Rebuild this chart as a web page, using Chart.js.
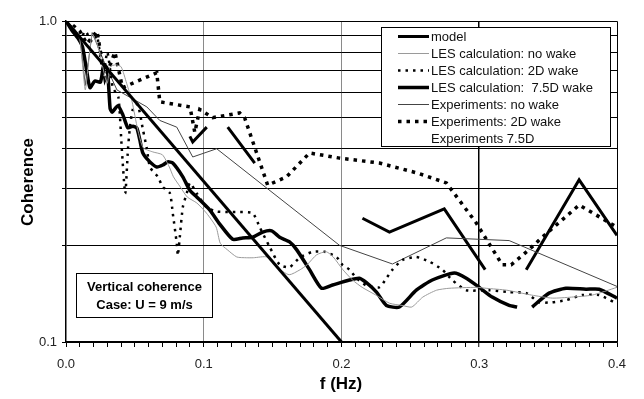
<!DOCTYPE html>
<html>
<head>
<meta charset="utf-8">
<title>Vertical coherence</title>
<script src="https://cdn.jsdelivr.net/npm/chart.js@4.4.1/dist/chart.umd.min.js"></script>
<style>
  html, body { margin: 0; padding: 0; background: #fff; }
  #wrap { width: 644px; height: 399px; }
</style>
</head>
<body>
<div id="wrap"><canvas id="coherenceChart" width="644" height="399"></canvas></div>
<script>
// Values: frequency f (Hz) and coherence per series
const modelF = [0, 0.2];
const modelC = [1.0, 0.1];

const lesNoWakeF = [0, 0.006, 0.010, 0.012, 0.014, 0.016, 0.019, 0.023, 0.028, 0.030, 0.032, 0.036, 0.040, 0.044, 0.048, 0.052, 0.056, 0.063, 0.070, 0.075, 0.078, 0.083, 0.088, 0.095, 0.102, 0.109, 0.112, 0.117, 0.124, 0.131, 0.136, 0.146, 0.153, 0.162, 0.170, 0.175, 0.182, 0.189, 0.194, 0.201, 0.208, 0.215, 0.225, 0.235, 0.244, 0.251, 0.259, 0.269, 0.278, 0.298, 0.305, 0.320, 0.338, 0.353, 0.367, 0.382, 0.400];
const lesNoWakeC = [1.0, 0.95, 0.875, 0.73, 0.61, 0.72, 0.91, 0.84, 0.68, 0.64, 0.72, 0.73, 0.72, 0.64, 0.56, 0.46, 0.403, 0.391, 0.383, 0.351, 0.327, 0.304, 0.283, 0.271, 0.252, 0.228, 0.203, 0.194, 0.184, 0.183, 0.183, 0.184, 0.171, 0.162, 0.168, 0.174, 0.187, 0.191, 0.184, 0.168, 0.156, 0.148, 0.140, 0.132, 0.130, 0.1285, 0.138, 0.145, 0.147, 0.148, 0.147, 0.145, 0.140, 0.137, 0.138, 0.140, 0.148];

const les2dF = [0, 0.005, 0.010, 0.014, 0.019, 0.0225, 0.027, 0.030, 0.034, 0.038, 0.0405, 0.043, 0.045, 0.0465, 0.0485, 0.052, 0.0558, 0.0587, 0.061, 0.0667, 0.0703, 0.0754, 0.0775, 0.0804, 0.0812, 0.0826, 0.0848, 0.0877, 0.090, 0.095, 0.102, 0.1094, 0.1174, 0.1246, 0.1355, 0.1406, 0.1478, 0.1551, 0.1623, 0.1696, 0.179, 0.1877, 0.1964, 0.2007, 0.2058, 0.2109, 0.2181, 0.2275, 0.2326, 0.237, 0.2442, 0.2543, 0.2638, 0.2732, 0.2804, 0.2906, 0.3072, 0.3217, 0.3341, 0.3435, 0.3529, 0.363, 0.3746, 0.387, 0.398];
const les2dC = [1.0, 0.95, 0.87, 0.93, 0.86, 0.90, 0.68, 0.80, 0.62, 0.58, 0.40, 0.29, 0.40, 0.47, 0.53, 0.55, 0.46, 0.40, 0.35, 0.327, 0.304, 0.291, 0.252, 0.203, 0.186, 0.212, 0.263, 0.291, 0.313, 0.29, 0.263, 0.255, 0.254, 0.254, 0.252, 0.228, 0.198, 0.174, 0.171, 0.183, 0.191, 0.191, 0.184, 0.174, 0.168, 0.158, 0.150, 0.148, 0.158, 0.168, 0.180, 0.184, 0.178, 0.168, 0.156, 0.145, 0.145, 0.143, 0.142, 0.133, 0.133, 0.135, 0.140, 0.140, 0.133];

const les75F = [0, 0.004, 0.009, 0.012, 0.015, 0.0174, 0.021, 0.025, 0.0275, 0.030, 0.032, 0.0335, 0.0377, 0.0413, 0.0449, 0.0486, 0.0514, 0.0536, 0.0558, 0.0609, 0.0659, 0.0703, 0.0739, 0.0775, 0.0848, 0.0899, 0.0949, 0.1043, 0.1116, 0.121, 0.1283, 0.1355, 0.1428, 0.1493, 0.1551, 0.1623, 0.1674, 0.1768, 0.1855, 0.1935, 0.2058, 0.213, 0.2181, 0.2254, 0.2326, 0.242, 0.2543, 0.2659, 0.2819, 0.2906, 0.300, 0.3094, 0.3217, 0.3275, 0.333, 0.3384, 0.3507, 0.363, 0.3775, 0.387, 0.400];
const les75C = [1.0, 0.94, 0.88, 0.83, 0.70, 0.62, 0.65, 0.645, 0.73, 0.71, 0.535, 0.52, 0.545, 0.51, 0.465, 0.47, 0.464, 0.426, 0.388, 0.364, 0.351, 0.356, 0.364, 0.361, 0.327, 0.297, 0.283, 0.258, 0.233, 0.209, 0.211, 0.212, 0.220, 0.222, 0.212, 0.205, 0.194, 0.168, 0.147, 0.1505, 0.156, 0.158, 0.153, 0.143, 0.130, 0.1285, 0.145, 0.156, 0.164, 0.158, 0.148, 0.138, 0.130, 0.1285, null, 0.1285, 0.142, 0.147, 0.146, 0.146, 0.137];

const expNoWakeF = [0, 0.010, 0.014, 0.019, 0.028, 0.037, 0.0587, 0.0681, 0.0804, 0.092, 0.1094, 0.1986, 0.237, 0.2761, 0.3217, 0.400];
const expNoWakeC = [1.0, 0.90, 0.63, 0.92, 0.74, 0.61, 0.54, 0.49, 0.467, 0.377, 0.40, 0.20, 0.175, 0.211, 0.207, 0.149];

const exp2dF = [0.005, 0.010, 0.0152, 0.0225, 0.0283, 0.0355, 0.041, 0.0659, 0.0681, 0.090, 0.0935, 0.0971, 0.1065, 0.1261, 0.1297, 0.1464, 0.1601, 0.1768, 0.1986, 0.2275, 0.2551, 0.2761, 0.2978, 0.3022, 0.3167, 0.3232, 0.3362, 0.3457, 0.3725, 0.400];
const exp2dC = [0.97, 0.93, 0.85, 0.93, 0.66, 0.80, 0.62, 0.69, 0.56, 0.54, 0.45, 0.53, 0.50, 0.517, 0.499, 0.308, 0.327, 0.388, 0.374, 0.361, 0.336, 0.313, 0.235, 0.219, 0.174, 0.174, 0.194, 0.212, 0.267, 0.228];

const exp75F = [0.0899, 0.092, 0.1022, 0.108, 0.1174, 0.137, 0.176, 0.2152, 0.2348, 0.2746, 0.3043, 0.319, 0.3341, 0.3725, 0.400];
const exp75C = [0.437, 0.42, 0.467, null, 0.467, 0.361, null, 0.243, 0.220, 0.260, 0.168, null, 0.168, 0.32, 0.215];

const seriesNames = ['model', 'LES calculation: no wake', 'LES calculation: 2D wake', 'LES calculation:  7.5D wake', 'Experiments: no wake', 'Experiments: 2D wake', 'Experiments 7.5D'];
const xTickLabels = ['0.0', '0.1', '0.2', '0.3', '0.4'];
const yTickLabels = ['0.1', '1.0'];
const yGridValues = [0.1, 0.2, 0.3, 0.4, 0.5, 0.6, 0.7, 0.8, 0.9, 1.0];
const xTitle = 'f (Hz)';
const yTitle = 'Coherence';
const noteLines = ['Vertical coherence', 'Case: U = 9 m/s'];

// Line styles, in the same order as seriesNames
const seriesStyles = [
    { color: '#000', width: 3, dash: [], tension: 0 },
    { color: '#9a9a9a', width: 1, dash: [], tension: 0.2 },
    { color: '#000', width: 2.5, dash: [2.5, 5], tension: 0.2 },
    { color: '#000', width: 3.5, dash: [], tension: 0.2 },
    { color: '#444', width: 1, dash: [], tension: 0 },
    { color: '#000', width: 3.5, dash: [3.5, 5], tension: 0 },
    { color: '#000', width: 3, dash: [], tension: 0, noSample: true }
];

const FONT = '"Liberation Sans", Arial, Helvetica, sans-serif';

function toPoints(f, c) {
    return f.map((x, i) => ({ x: x, y: c[i] }));
}

const seriesData = [
    toPoints(modelF, modelC),
    toPoints(lesNoWakeF, lesNoWakeC),
    toPoints(les2dF, les2dC),
    toPoints(les75F, les75C),
    toPoints(expNoWakeF, expNoWakeC),
    toPoints(exp2dF, exp2dC),
    toPoints(exp75F, exp75C)
];

const datasets = seriesData.map((data, i) => ({
    label: seriesNames[i],
    data: data,
    borderColor: seriesStyles[i].color,
    borderWidth: seriesStyles[i].width,
    borderDash: seriesStyles[i].dash,
    borderCapStyle: 'butt',
    borderJoinStyle: 'miter',
    tension: seriesStyles[i].tension,
    pointRadius: 0,
    fill: false,
    spanGaps: false
}));

/**
 * Plot frame, legend box, note box and axis titles
 */
const decorPlugin = {
    id: 'decor',
    afterDatasetsDraw(chart) {
        const ctx = chart.ctx;
        const area = chart.chartArea;

        ctx.save();
        // top and right edges of the plot frame
        ctx.strokeStyle = '#000';
        ctx.lineWidth = 1;
        ctx.setLineDash([]);
        ctx.beginPath();
        ctx.moveTo(Math.round(area.left) + 0.5, Math.round(area.top) + 0.5);
        ctx.lineTo(Math.round(area.right) + 0.5, Math.round(area.top) + 0.5);
        ctx.lineTo(Math.round(area.right) + 0.5, Math.round(area.bottom) + 0.5);
        ctx.stroke();

        // legend
        const lx = 381, ly = 27, lw = 229, lh = 119;
        ctx.fillStyle = '#fff';
        ctx.fillRect(lx, ly, lw, lh);
        ctx.strokeStyle = '#000';
        ctx.lineWidth = 1;
        ctx.strokeRect(lx + 0.5, ly + 0.5, lw, lh);
        ctx.font = '13px ' + FONT;
        ctx.textBaseline = 'middle';
        ctx.textAlign = 'left';
        seriesNames.forEach((name, i) => {
            const y = 36 + i * 17;
            const st = seriesStyles[i];
            if (!st.noSample) {
                ctx.beginPath();
                ctx.setLineDash(st.dash);
                ctx.lineWidth = st.width;
                ctx.strokeStyle = st.color;
                ctx.moveTo(398, y + 0.5);
                ctx.lineTo(429, y + 0.5);
                ctx.stroke();
            }
            ctx.setLineDash([]);
            ctx.fillStyle = '#111';
            ctx.fillText(name, 431, y + 1);
        });

        // note box
        const nx = 76, ny = 273, nw = 136, nh = 44;
        ctx.fillStyle = '#fff';
        ctx.fillRect(nx, ny, nw, nh);
        ctx.strokeStyle = '#000';
        ctx.lineWidth = 1;
        ctx.strokeRect(nx + 0.5, ny + 0.5, nw, nh);
        ctx.font = 'bold 13px ' + FONT;
        ctx.textAlign = 'center';
        ctx.fillStyle = '#000';
        ctx.fillText(noteLines[0], nx + nw / 2 + 0.5, 287);
        ctx.fillText(noteLines[1], nx + nw / 2 + 0.5, 305);

        // axis titles
        ctx.font = 'bold 17px ' + FONT;
        ctx.fillText(xTitle, 341, 384);
        ctx.translate(28, 182);
        ctx.rotate(-Math.PI / 2);
        ctx.fillText(yTitle, 0, 0);
        ctx.restore();
    }
};

function xStep(value) {
    return Math.round(value * 100);
}

const chart = new Chart(document.getElementById('coherenceChart'), {
    type: 'line',
    data: { datasets: datasets },
    options: {
        responsive: false,
        animation: false,
        events: [],
        layout: { padding: { top: 21, right: 27, left: 0, bottom: 0 } },
        plugins: {
            legend: { display: false },
            tooltip: { enabled: false },
            title: { display: false }
        },
        scales: {
            x: {
                type: 'linear',
                min: 0,
                max: 0.4,
                afterFit(scale) { scale.height = 57; },
                ticks: {
                    stepSize: 0.01,
                    autoSkip: false,
                    maxRotation: 0,
                    padding: 10,
                    color: '#222',
                    font: { family: FONT, size: 13 },
                    callback: (v) => {
                        const k = xStep(v);
                        return k % 10 === 0 ? xTickLabels[k / 10] : '';
                    }
                },
                grid: {
                    drawTicks: true,
                    tickLength: 5,
                    tickColor: '#000',
                    tickWidth: 1,
                    lineWidth: (c) => (xStep(c.tick.value) === 30 ? 1.5 : 1),
                    color: (c) => {
                        const k = xStep(c.tick.value);
                        if (k === 30) return '#000';
                        if (k % 10 === 0 && k > 0 && k < 40) return '#8a8a8a';
                        return 'rgba(0,0,0,0)';
                    }
                },
                border: { display: true, color: '#000', width: 1.5 }
            },
            y: {
                type: 'logarithmic',
                min: 0.1,
                max: 1.0,
                afterFit(scale) { scale.width = 66; },
                afterBuildTicks(scale) {
                    scale.ticks = yGridValues.map(v => ({ value: v }));
                },
                ticks: {
                    padding: 5,
                    color: '#222',
                    font: { family: FONT, size: 13 },
                    callback: (v) => {
                        if (Math.abs(v - 1) < 1e-9) return yTickLabels[1];
                        if (Math.abs(v - 0.1) < 1e-9) return yTickLabels[0];
                        return '';
                    }
                },
                grid: {
                    color: '#000',
                    lineWidth: 1,
                    tickLength: 4,
                    tickColor: '#000'
                },
                border: { display: true, color: '#000', width: 1.5 }
            }
        }
    },
    plugins: [decorPlugin]
});
</script>
</body>
</html>
